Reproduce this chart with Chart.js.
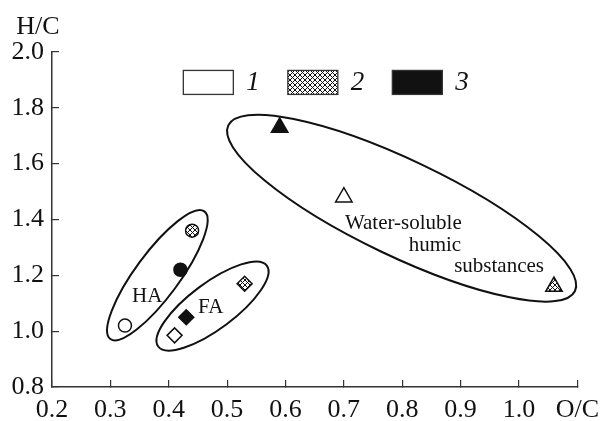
<!DOCTYPE html>
<html>
<head>
<meta charset="utf-8">
<script src="https://cdn.jsdelivr.net/npm/chart.js@4.4.1/dist/chart.umd.min.js"></script>
<style>
  body { margin: 0; background: #fff; }
</style>
</head>
<body>
<canvas id="myChart" width="614" height="421"></canvas>
<script>
// one point per fraction (HA, FA, water-soluble) for each sample 1..3
const samples = ['1', '2', '3'];
const fractions = ['HA', 'FA', 'Water-soluble humic substances'];

const oc1 = [0.325, 0.41, 0.70];
const hc1 = [1.02, 0.985, 1.48];
const oc2 = [0.44, 0.53, 1.06];
const hc2 = [1.36, 1.17, 1.16];
const oc3 = [0.42, 0.43, 0.59];
const hc3 = [1.22, 1.05, 1.73];

const xTickLabels = ['0.2', '0.3', '0.4', '0.5', '0.6', '0.7', '0.8', '0.9', '1.0', 'O/C'];
const yTickLabels = ['0.8', '1.0', '1.2', '1.4', '1.6', '1.8', '2.0'];

// group outlines: major axis ends in O/C,H/C units, half width in px
const groups = [
  { from: [0.300, 0.972], to: [0.461, 1.429], halfWidth: 22 },
  { from: [0.382, 0.945], to: [0.568, 1.235], halfWidth: 23 },
  { from: [0.502, 1.737], to: [1.096, 1.144], halfWidth: 48 }
];

const notes = [
  { text: 'HA', x: 0.363, y: 1.124, align: 'center', base: 'middle' },
  { text: 'FA', x: 0.472, y: 1.084, align: 'center', base: 'middle' },
  { text: 'Water-soluble', x: 0.902, y: 1.366, align: 'right', base: 'alphabetic' },
  { text: 'humic', x: 0.901, y: 1.288, align: 'right', base: 'alphabetic' },
  { text: 'substances', x: 0.889, y: 1.211, align: 'left', base: 'alphabetic' }
];

const serif = '"Liberation Serif", "Times New Roman", serif';
const ink = '#111';
const shapes = ['circle', 'rectRot', 'triangle'];
const sizes = [6.5, 7.5, 9.5];

const canvas = document.getElementById('myChart');

function makeHatch() {
  const t = document.createElement('canvas');
  t.width = 5; t.height = 5;
  const g = t.getContext('2d');
  g.fillStyle = '#fff';
  g.fillRect(0, 0, 5, 5);
  g.strokeStyle = ink;
  g.lineWidth = 1;
  g.beginPath();
  g.moveTo(-1, -1); g.lineTo(6, 6);
  g.moveTo(6, -1); g.lineTo(-1, 6);
  g.stroke();
  return canvas.getContext('2d').createPattern(t, 'repeat');
}
const hatch = makeHatch();
const fills = ['#fff', hatch, ink];

const toXY = (xs, ys) => xs.map((x, i) => ({ x: x, y: ys[i] }));

const pix = (chart, x, y) => [chart.scales.x.getPixelForValue(x), chart.scales.y.getPixelForValue(y)];

const extras = {
  id: 'extras',
  beforeDatasetsDraw(chart) {
    const ctx = chart.ctx;
    ctx.save();
    ctx.strokeStyle = ink;
    ctx.lineWidth = 2;
    groups.forEach(e => {
      const [x1, y1] = pix(chart, e.from[0], e.from[1]);
      const [x2, y2] = pix(chart, e.to[0], e.to[1]);
      ctx.beginPath();
      ctx.ellipse((x1 + x2) / 2, (y1 + y2) / 2, Math.hypot(x2 - x1, y2 - y1) / 2, e.halfWidth,
        Math.atan2(y2 - y1, x2 - x1), 0, Math.PI * 2);
      ctx.stroke();
    });
    ctx.fillStyle = ink;
    ctx.font = '21px ' + serif;
    notes.forEach(n => {
      const [x, y] = pix(chart, n.x, n.y);
      ctx.textAlign = n.align;
      ctx.textBaseline = n.base;
      ctx.fillText(n.text, x, y);
    });
    ctx.restore();
  },
  afterDraw(chart) {
    const ctx = chart.ctx;
    ctx.save();
    // axis name over the y ticks
    ctx.fillStyle = ink;
    ctx.font = '26px ' + serif;
    ctx.textAlign = 'center';
    ctx.textBaseline = 'alphabetic';
    ctx.fillText('H/C', chart.scales.y.right - 14, chart.chartArea.top - 18);

    // legend inside the plot
    let [left, mid] = pix(chart, 0.425, 1.891);
    ctx.font = 'italic 27px ' + serif;
    ctx.textAlign = 'left';
    ctx.textBaseline = 'middle';
    samples.forEach((s, i) => {
      ctx.fillStyle = fills[i];
      ctx.fillRect(left, mid - 12, 50, 24);
      ctx.strokeStyle = '#333';
      ctx.lineWidth = 1.3;
      ctx.strokeRect(left, mid - 12, 50, 24);
      ctx.fillStyle = ink;
      ctx.fillText(s, left + 63, mid);
      left += 63 + ctx.measureText(s).width + 28;
    });
    ctx.restore();
  }
};

const datasets = [[oc1, hc1], [oc2, hc2], [oc3, hc3]].map((d, i) => ({
  label: samples[i],
  data: toXY(d[0], d[1]),
  pointStyle: shapes,
  pointRadius: sizes,
  pointHoverRadius: sizes,
  backgroundColor: fills[i],
  borderColor: ink,
  borderWidth: 1.5
}));

new Chart(canvas, {
  type: 'scatter',
  data: { datasets: datasets },
  options: {
    responsive: false,
    animation: false,
    layout: { padding: { top: 52, right: 24 } },
    plugins: { legend: { display: false }, tooltip: { enabled: false } },
    scales: {
      x: {
        min: 0.2,
        max: 1.1,
        afterFit(scale) { scale.height = 34; },
        ticks: {
          stepSize: 0.1,
          autoSkip: false,
          maxRotation: 0,
          padding: 15,
          color: ink,
          font: { family: serif, size: 26 },
          callback: (v, i) => xTickLabels[i]
        },
        grid: { drawOnChartArea: false, tickLength: -7, color: '#333', lineWidth: 1.2 },
        border: { color: '#333', width: 1.5 }
      },
      y: {
        min: 0.8,
        max: 2.0,
        afterFit(scale) { scale.width = 52; },
        ticks: {
          stepSize: 0.2,
          padding: 15,
          color: ink,
          font: { family: serif, size: 26 },
          callback: (v, i) => yTickLabels[i]
        },
        grid: { drawOnChartArea: false, tickLength: -7, color: '#333', lineWidth: 1.2 },
        border: { color: '#333', width: 1.5 }
      }
    }
  },
  plugins: [extras]
});
</script>
</body>
</html>
